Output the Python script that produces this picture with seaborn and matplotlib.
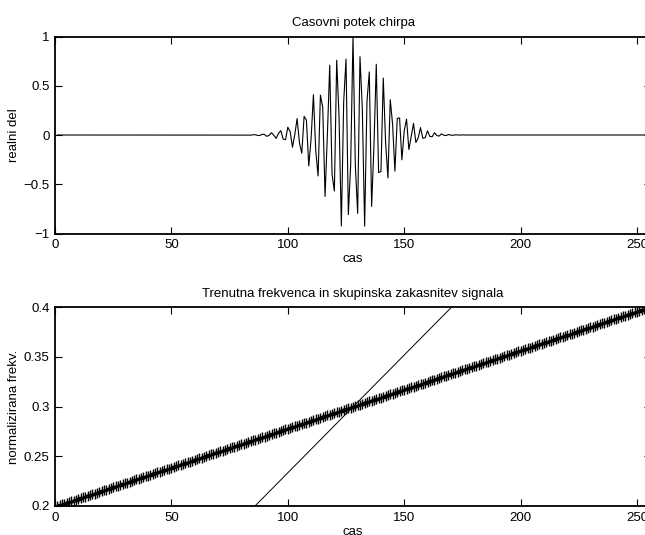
import numpy as np
import pandas as pd
import matplotlib
matplotlib.use("Agg")
import matplotlib.pyplot as plt
import seaborn as sns

# ---------------- data ----------------
# sample index (time axis)
time = list(range(1, 257))

# real part of the chirp, non-zero samples t = 82 .. 175 (zero elsewhere)
signal_core = [0.001,-0.001,-0.002,0.002,0.003,-0.004,-0.005,0.008,0.005,-0.014,
               -0.003,0.023,-0.003,-0.034,0.017,0.044,-0.042,-0.048,0.079,0.035,
               -0.124,0.005,0.167,-0.080,-0.185,0.190,0.150,-0.314,-0.037,0.409,
               -0.159,-0.416,0.405,0.282,-0.624,0.008,0.709,-0.398,-0.569,0.759,
               0.187,-0.924,0.338,0.770,-0.808,-0.303,1.000,-0.308,-0.796,0.795,
               0.267,-0.925,0.339,0.640,-0.725,-0.106,0.718,-0.381,-0.372,0.578,
               -0.073,-0.436,0.359,0.111,-0.367,0.167,0.174,-0.252,0.044,0.161,
               -0.148,-0.014,0.118,-0.076,-0.030,0.075,-0.034,-0.027,0.043,-0.014,
               -0.018,0.023,-0.005,-0.011,0.011,-0.002,-0.006,0.005,-0.001,-0.003,
               0.002,-0.000,-0.001,0.001]
signal_real = [0.0] * 81 + signal_core + [0.0] * 81

# instantaneous frequency (one value per sample)
inst_freq = [.2000,.2008,.2016,.2024,.2031,.2039,.2047,.2055,.2063,.2071,
             .2078,.2086,.2094,.2102,.2110,.2118,.2125,.2133,.2141,.2149,
             .2157,.2165,.2173,.2180,.2188,.2196,.2204,.2212,.2220,.2227,
             .2235,.2243,.2251,.2259,.2267,.2275,.2282,.2290,.2298,.2306,
             .2314,.2322,.2329,.2337,.2345,.2353,.2361,.2369,.2376,.2384,
             .2392,.2400,.2408,.2416,.2424,.2431,.2439,.2447,.2455,.2463,
             .2471,.2478,.2486,.2494,.2502,.2510,.2518,.2525,.2533,.2541,
             .2549,.2557,.2565,.2573,.2580,.2588,.2596,.2604,.2612,.2620,
             .2627,.2635,.2643,.2651,.2659,.2667,.2675,.2682,.2690,.2698,
             .2706,.2714,.2722,.2729,.2737,.2745,.2753,.2761,.2769,.2776,
             .2784,.2792,.2800,.2808,.2816,.2824,.2831,.2839,.2847,.2855,
             .2863,.2871,.2878,.2886,.2894,
             .2902,.2910,.2918,.2925,.2933,.2941,.2949,.2957,.2965,.2973,
             .2980,.2988,.2996,.3004,.3012,.3020,.3027,.3035,.3043,.3051,
             .3059,.3067,.3075,.3082,.3090,.3098,.3106,.3114,.3122,.3129,
             .3137,.3145,.3153,.3161,.3169,.3176,.3184,.3192,.3200,.3208,
             .3216,.3224,.3231,.3239,.3247,.3255,.3263,.3271,.3278,.3286,
             .3294,.3302,.3310,.3318,.3325,.3333,.3341,.3349,.3357,.3365,
             .3373,.3380,.3388,.3396,.3404,.3412,.3420,.3427,.3435,.3443,
             .3451,.3459,.3467,.3475,.3482,.3490,.3498,.3506,.3514,.3522,
             .3529,.3537,.3545,.3553,.3561,.3569,.3576,.3584,.3592,.3600,
             .3608,.3616,.3624,.3631,.3639,.3647,.3655,.3663,.3671,.3678,
             .3686,.3694,.3702,.3710,.3718,.3725,.3733,.3741,.3749,.3757,
             .3765,.3773,.3780,.3788,.3796,.3804,.3812,.3820,.3827,.3835,
             .3843,.3851,.3859,.3867,.3875,.3882,.3890,.3898,.3906,.3914,
             .3922,.3929,.3937,.3945,.3953,.3961,.3969,.3976,.3984,.3992,
             .4000]

# group delay (time as a function of frequency)
gd_time = [85.9, 170.4]
gd_freq = [0.2, 0.4]

# tick labels
x_ticks = [0, 50, 100, 150, 200, 250]
x_ticklabels = ["0", "50", "100", "150", "200", "250"]
y1_ticks = [-1, -0.5, 0, 0.5, 1]
y1_ticklabels = ["\u22121", "\u22120.5", "0", "0.5", "1"]
y2_ticks = [0.2, 0.25, 0.3, 0.35, 0.4]
y2_ticklabels = ["0.2", "0.25", "0.3", "0.35", "0.4"]

title_top = "Casovni potek chirpa"
title_bottom = "Trenutna frekvenca in skupinska zakasnitev signala"
xlabel = "cas"
ylabel_top = "realni del"
ylabel_bottom = "normalizirana frekv."

# ---------------- style ----------------
sns.set_theme(style="white")
plt.rcParams["font.family"] = ["Liberation Sans", "DejaVu Sans"]
plt.rcParams["font.size"] = 9.5
plt.rcParams["axes.linewidth"] = 1.3
plt.rcParams["axes.edgecolor"] = "black"

df_sig = pd.DataFrame({"t": time, "s": signal_real})
df_if = pd.DataFrame({"t": time, "f": inst_freq})
df_gd = pd.DataFrame({"t": gd_time, "f": gd_freq})

fig = plt.figure(figsize=(6.45, 5.35), dpi=100)
W, H = 645.0, 535.0
left, right = 55.0, 651.0
ax1 = fig.add_axes([left / W, 1 - 233.5 / H, (right - left) / W, 197.0 / H])
ax2 = fig.add_axes([left / W, 1 - 506.0 / H, (right - left) / W, 199.0 / H])

sns.lineplot(data=df_sig, x="t", y="s", ax=ax1, color="black", linewidth=0.8,
             sort=False, estimator=None)
sns.scatterplot(data=df_if, x="t", y="f", ax=ax2, marker="+", s=56,
                color="black", linewidth=1.0)
sns.lineplot(data=df_gd, x="t", y="f", ax=ax2, color="black", linewidth=0.7,
             sort=False, estimator=None)

for ax, yt, ytl, ylim, yl, ttl in [
        (ax1, y1_ticks, y1_ticklabels, (-1, 1), ylabel_top, title_top),
        (ax2, y2_ticks, y2_ticklabels, (0.2, 0.4), ylabel_bottom, title_bottom)]:
    ax.set_xlim(0, 256)
    ax.set_ylim(*ylim)
    ax.set_xticks(x_ticks)
    ax.set_xticklabels(x_ticklabels)
    ax.set_yticks(yt)
    ax.set_yticklabels(ytl)
    ax.tick_params(direction="in", length=5, width=0.8, color="black",
                   top=True, right=True, bottom=True, left=True,
                   labelsize=9.5, pad=4, labelcolor="black")
    ax.set_title(ttl, fontsize=9.5, pad=7.5, color="black")
    ax.set_xlabel(xlabel, fontsize=9.5, color="black")
    ax.set_ylabel(yl, fontsize=9.5, color="black")
    ax.xaxis.set_label_coords(0.5, -0.10)
    ax.yaxis.set_label_coords(-0.058, 0.5)
    for sp in ax.spines.values():
        sp.set_visible(True)
        sp.set_color("black")
    ax.set_facecolor("white")
    ax.grid(False)
    ax.get_legend() and ax.get_legend().remove()

fig.savefig("out.png", dpi=100, facecolor="white")
